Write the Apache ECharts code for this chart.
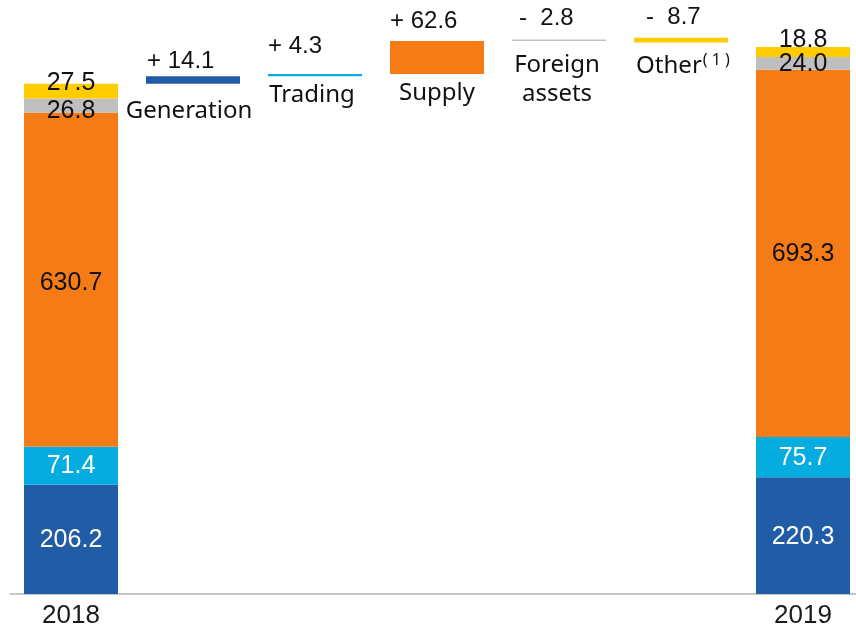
<!DOCTYPE html>
<html>
<head>
<meta charset="utf-8">
<script src="https://cdn.jsdelivr.net/npm/echarts@6/dist/echarts.min.js"></script>
<style>
  html, body { margin: 0; padding: 0; background: #ffffff; overflow: hidden; }
  #chart { width: 864px; height: 632px; }
</style>
</head>
<body>
<div id="chart"></div>
<script>
// Categories along the x axis: opening year, the five drivers, closing year
const categories = ['2018', 'Generation', 'Trading', 'Supply', 'Foreign\nassets', 'Other', '2019'];
// Business segments stacked inside the year columns (bottom to top)
const segments = ['Generation', 'Trading', 'Supply', 'Foreign assets', 'Other'];
const values2018 = [206.2, 71.4, 630.7, 26.8, 27.5];
const values2019 = [220.3, 75.7, 693.3, 24.0, 18.8];
// Year-on-year change per segment
const changes = [14.1, 4.3, 62.6, -2.8, -8.7];

const colors = ['#215ca7', '#05ace0', '#f47b16', '#bfbfbf', '#ffcc00'];
const insideTextColors = ['#ffffff', '#ffffff', '#111111', '#111111', '#111111'];
// vertical nudges of the segment labels inside the year columns
const nudge2018 = [1, 0, 3, 6, -8];
const nudge2019 = [1, 1, 1, 1, -12];
// value labels above the change bars: [dx, dy] from the bar's top-left corner
const changeValueOffset = [[1, -3], [0, -16], [0, -8], [7, -9], [12, -8]];
// name labels under the change bars: [dx, dy] from the bar's bottom centre
const changeNameOffset = [[-4, 13], [-3, 4], [0, 5], [-2, 10], [2, 9]];

const NUM_FONT = "'Liberation Sans', Arial, sans-serif";
const NAME_FONT = "'Noto Sans', 'DejaVu Sans', sans-serif";

const total2018 = values2018.reduce((a, b) => a + b, 0);
// each change bar starts at the running total before it and rises by its size
const bases = [];
let running = total2018;
changes.forEach(c => { bases.push(running); running += c; });

function fmtChange(v) {
  return (v < 0 ? '-  ' : '+ ') + Math.abs(v).toFixed(1);
}

function nameText(i) {
  const n = categories[i + 1];
  if (n === 'Other') return '{n|Other}{sup|( 1 )}';
  return n.split('\n').map(s => '{n|' + s + '}').join('\n');
}

// invisible base that lifts each change bar, carrying the driver name below it
const baseSeries = {
  name: 'base',
  type: 'bar',
  stack: 'bridge',
  barWidth: 94,
  silent: true,
  itemStyle: { color: 'transparent' },
  emphasis: { disabled: true },
  data: categories.map((c, idx) => {
    if (idx === 0 || idx === categories.length - 1) return '-';
    const i = idx - 1;
    return {
      value: bases[i],
      label: {
        show: true,
        position: ['50%', 0],
        align: 'center',
        verticalAlign: 'top',
        offset: changeNameOffset[i],
        formatter: nameText(i),
        rich: {
          n: { fontFamily: NAME_FONT, fontSize: 24, color: '#111111', lineHeight: 29 },
          sup: { fontFamily: NAME_FONT, fontSize: 16, color: '#111111', lineHeight: 16, verticalAlign: 'top', padding: [1, 0, 0, 1] }
        }
      }
    };
  })
};

const segmentSeries = segments.map((seg, s) => ({
  name: seg,
  type: 'bar',
  stack: 'bridge',
  barWidth: 94,
  silent: true,
  emphasis: { disabled: true },
  itemStyle: { color: colors[s] },
  data: categories.map((c, idx) => {
    if (idx === 0 || idx === categories.length - 1) {
      const first = idx === 0;
      const v = first ? values2018[s] : values2019[s];
      return {
        value: v,
        label: {
          show: true,
          position: 'inside',
          offset: [0, (first ? nudge2018 : nudge2019)[s]],
          formatter: v.toFixed(1),
          fontFamily: NUM_FONT,
          fontSize: 25,
          color: insideTextColors[s]
        }
      };
    }
    if (idx === s + 1) {
      return {
        value: Math.abs(changes[s]),
        label: {
          show: true,
          position: [0, 0],
          align: 'left',
          verticalAlign: 'bottom',
          offset: changeValueOffset[s],
          formatter: fmtChange(changes[s]),
          fontFamily: NUM_FONT,
          fontSize: 24,
          color: '#111111'
        }
      };
    }
    return '-';
  })
}));

const chart = echarts.init(document.getElementById('chart'), null, { renderer: 'canvas' });
chart.setOption({
  animation: false,
  backgroundColor: '#ffffff',
  grid: { left: 10, right: 0, top: 11, bottom: 38 },
  xAxis: {
    type: 'category',
    data: categories,
    axisTick: { show: false },
    axisLine: { lineStyle: { color: '#b4b4b4', width: 1.5 } },
    axisLabel: {
      margin: 9,
      fontFamily: NUM_FONT,
      fontSize: 26,
      color: '#1a1a1a',
      formatter: v => (v === '2018' || v === '2019') ? v : ''
    }
  },
  yAxis: { type: 'value', min: 0, max: 1100, show: false, splitLine: { show: false } },
  series: [baseSeries].concat(segmentSeries)
});
</script>
</body>
</html>
